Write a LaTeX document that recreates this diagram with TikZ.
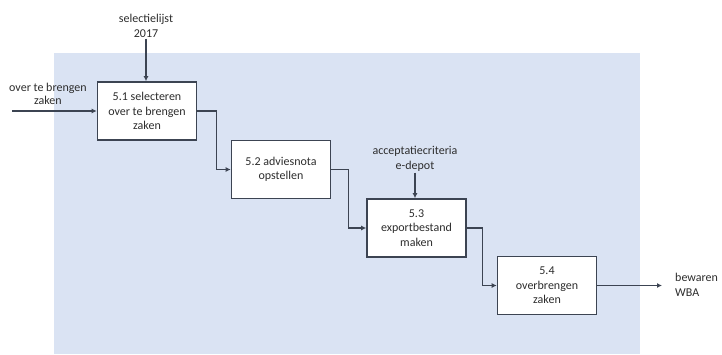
\documentclass[tikz,border=0pt]{standalone}
\usepackage{fontspec}
\setmainfont{Carlito}
\usetikzlibrary{arrows.meta}
\definecolor{panel}{RGB}{218,227,243}
\definecolor{edge}{RGB}{60,68,82}
\definecolor{ink}{RGB}{45,45,45}
\begin{document}
\begin{tikzpicture}[x=1pt,y=-1pt,
  every node/.style={text=ink, font=\fontsize{12}{14.5}\selectfont},
  proc/.style={draw=edge, line width=1.6pt, fill=white, align=center,
    minimum width=99pt, minimum height=58pt, inner sep=2pt},
  lbl/.style={align=center, inner sep=1pt},
  flow/.style={draw=edge, line width=1.3pt, -{Latex[length=5pt,width=5pt]}}
]
  % canvas and shaded process area
  \useasboundingbox (0,0) rectangle (722,354);
  \fill[white] (0,0) rectangle (722,354);
  \fill[panel] (54,53) rectangle (640,354);

  % process steps
  \node[proc] (p1) at (147,111)   {5.1 selecteren\\over te brengen\\zaken};
  \node[proc] (p2) at (281,169.5) {5.2 adviesnota\\opstellen};
  \node[proc] (p3) at (416.5,228) {5.3\\exportbestand\\maken};
  \node[proc] (p4) at (547,285.5) {5.4\\overbrengen\\zaken};

  % inputs, controls and output
  \node[lbl, anchor=west, font=\fontsize{12}{13}\selectfont] (in) at (8,94) {over te brengen\\zaken};
  \coordinate (inStart) at (12,111);
  \node[lbl] (sel) at (146,26) {selectielijst\\2017};
  \node[lbl] (acc) at (415,159) {acceptatiecriteria\\e-depot};
  \coordinate (outEnd) at (662,285.5);
  \node[lbl, anchor=west, align=left] (out) at (674,285) {bewaren\\WBA};

  % connectors
  \draw[flow] (inStart) -- (p1.west);
  \draw[flow] (sel.south) -- (sel.south |- p1.north);
  \draw[flow] (acc.south) -- (acc.south |- p3.north);
  \draw[flow] (p1.east) -- ++(19,0) |- (p2.west);
  \draw[flow] (p2.east) -- ++(17,0) |- (p3.west);
  \draw[flow] (p3.east) -- ++(16,0) |- (p4.west);
  \draw[flow] (p4.east) -- (outEnd);
\end{tikzpicture}
\end{document}
